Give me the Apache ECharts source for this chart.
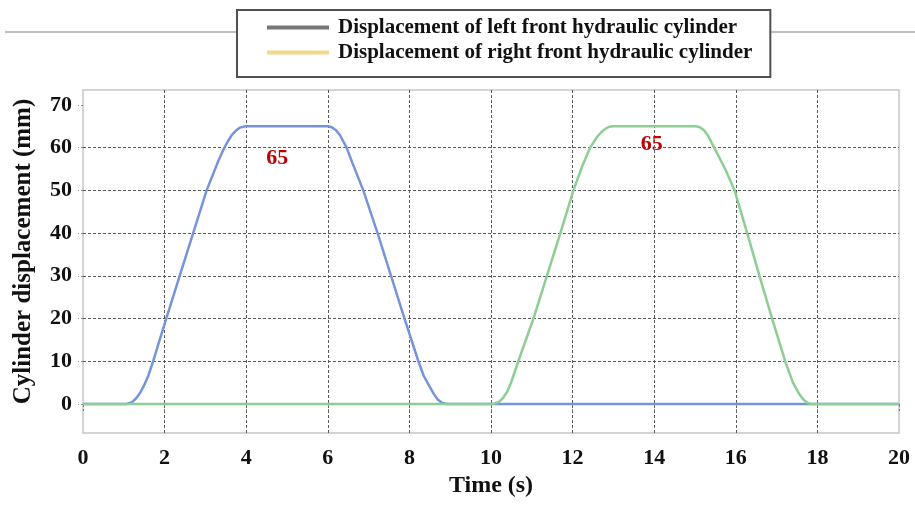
<!DOCTYPE html>
<html>
<head>
<meta charset="utf-8">
<script src="https://cdn.jsdelivr.net/npm/echarts@6/dist/echarts.min.js"></script>
<style>
html,body{margin:0;padding:0;background:#fff;}
#chart{width:915px;height:505px;}
</style>
</head>
<body>
<div id="chart"></div>
<script>
// ---- data ----
var seriesNames = ['Displacement of left front hydraulic cylinder', 'Displacement of right front hydraulic cylinder'];
var legendColors = ['#777777', '#f0d98c'];
var leftTime = [0, 1.07, 1.2, 1.3, 1.4, 1.5, 1.6, 1.72, 2.04, 2.37, 2.7, 3.03, 3.3, 3.44, 3.55, 3.65, 3.75, 3.85, 3.97, 6.01, 6.1, 6.2, 6.3, 6.46, 6.6, 6.87, 7.22, 7.55, 7.88, 8.22, 8.35, 8.5, 8.6, 8.7, 8.8, 8.91, 20];
var leftDisp = [0, 0, 0.4, 1.3, 2.6, 4.4, 6.6, 10, 20, 30, 40, 50, 56.5, 59.5, 61.5, 63, 64, 64.7, 65, 65, 64.8, 64.1, 62.9, 60, 56.5, 50, 40, 30, 20, 10, 6.6, 4.0, 2.3, 1.0, 0.3, 0, 0];
var rightTime = [0, 10.06, 10.2, 10.3, 10.4, 10.5, 10.67, 11.04, 11.37, 11.7, 12.02, 12.25, 12.43, 12.6, 12.7, 12.8, 12.9, 13.0, 15.02, 15.12, 15.22, 15.32, 15.47, 15.74, 15.97, 16.28, 16.58, 16.89, 17.21, 17.4, 17.55, 17.65, 17.75, 17.82, 20];
var rightDisp = [0, 0, 0.5, 1.5, 2.9, 5.2, 10, 20, 30, 40, 50, 56, 60, 62.5, 63.6, 64.4, 64.9, 65, 65, 64.8, 64.1, 62.8, 60, 55, 50, 40, 30, 20, 10, 5.0, 2.4, 1.1, 0.3, 0, 0];
var peakLabels = [[4.76, 57.5, '65'], [13.94, 60.7, '65']];
var yTicks = [0, 10, 20, 30, 40, 50, 60, 70];
var xTicks = [0, 2, 4, 6, 8, 10, 12, 14, 16, 18, 20];
var lineColors = ['#7694da', '#8cce93'];

function pairs(t, v) { return t.map(function (x, i) { return [x, v[i]]; }); }

var serif = '"Liberation Serif", "DejaVu Serif", serif';
var chart = echarts.init(document.getElementById('chart'), null, { renderer: 'canvas' });

function markFor(i) {
  return {
    symbol: 'circle', symbolSize: 1, silent: true,
    itemStyle: { color: 'rgba(0,0,0,0)' },
    label: { show: true, position: 'inside', color: '#c00000', fontFamily: serif, fontWeight: 'bold', fontSize: 22, formatter: function (p) { return p.name; } },
    data: [{ name: peakLabels[i][2], coord: [peakLabels[i][0], peakLabels[i][1]] }]
  };
}

chart.setOption({
  animation: false,
  backgroundColor: '#ffffff',
  graphic: [{
    type: 'line', z: 0, silent: true,
    shape: { x1: 5, y1: 32, x2: 915, y2: 32 },
    style: { stroke: '#a8a8a8', lineWidth: 1.5 }
  }],
  legend: {
    z: 10,
    orient: 'vertical',
    left: 237, top: 10,
    padding: [7, 18, 14, 30],
    itemGap: 4,
    itemWidth: 62, itemHeight: 4,
    icon: 'rect',
    backgroundColor: '#ffffff',
    borderColor: '#505050', borderWidth: 2,
    textStyle: { fontFamily: serif, fontWeight: 'bold', fontSize: 21, color: '#111', padding: [0, 0, 0, 4] },
    data: seriesNames.map(function (n, i) { return { name: n, itemStyle: { color: legendColors[i] }, lineStyle: { color: legendColors[i] } }; })
  },
  grid: {
    left: 83, right: 16, top: 90, bottom: 72,
    show: true, borderColor: '#c6c6c6', borderWidth: 1.5, backgroundColor: 'transparent'
  },
  xAxis: {
    type: 'value', min: 0, max: 20, interval: 2,
    name: 'Time (s)', nameLocation: 'middle', nameGap: 41,
    nameTextStyle: { fontFamily: serif, fontWeight: 'bold', fontSize: 24, color: '#111' },
    axisLine: { show: false },
    axisTick: { show: true, length: 7, lineStyle: { color: '#777', type: [3, 2] } },
    axisLabel: { margin: 14, fontFamily: serif, fontWeight: 'bold', fontSize: 22, color: '#111', customValues: xTicks },
    splitLine: { show: true, showMinLine: false, showMaxLine: false, lineStyle: { color: '#5a5a5a', width: 1, type: [3, 2] } }
  },
  yAxis: {
    type: 'value', min: -6.8, max: 73.5, splitNumber: 8,
    name: 'Cylinder displacement (mm)', nameLocation: 'middle', nameGap: 47,
    nameTextStyle: { fontFamily: serif, fontWeight: 'bold', fontSize: 25, color: '#111', padding: [0, 0, 0, 20] },
    axisLine: { show: false },
    axisTick: { show: true, length: 5, customValues: yTicks, lineStyle: { color: '#888', type: [2, 2] } },
    axisLabel: { margin: 11, fontFamily: serif, fontWeight: 'bold', fontSize: 22, color: '#111', customValues: yTicks },
    splitLine: { show: true, showMinLine: false, showMaxLine: false, lineStyle: { color: '#5a5a5a', width: 1, type: [3, 2] } }
  },
  series: [{
    name: seriesNames[0], type: 'line', showSymbol: false, smooth: false,
    lineStyle: { color: lineColors[0], width: 2.5 }, itemStyle: { color: lineColors[0] },
    data: pairs(leftTime, leftDisp), z: 2, markPoint: markFor(0)
  }, {
    name: seriesNames[1], type: 'line', showSymbol: false, smooth: false,
    lineStyle: { color: lineColors[1], width: 2.5 }, itemStyle: { color: lineColors[1] },
    data: pairs(rightTime, rightDisp), z: 3, markPoint: markFor(1)
  }]
});
</script>
</body>
</html>
